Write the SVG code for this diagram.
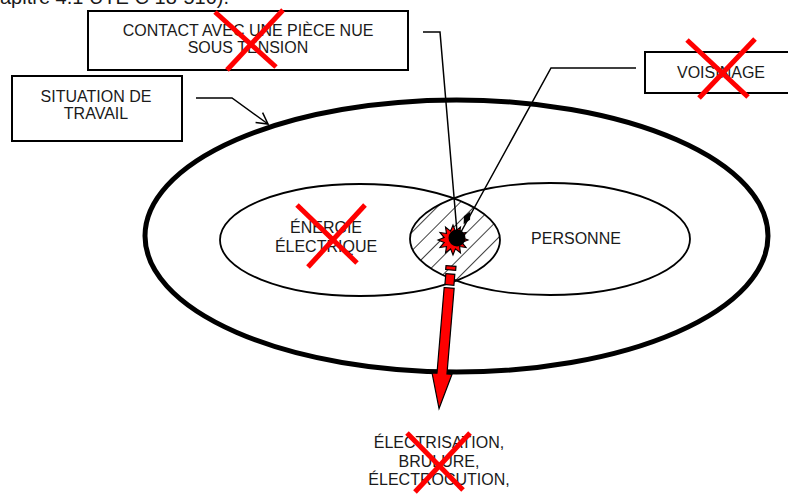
<svg xmlns="http://www.w3.org/2000/svg" width="788" height="502" viewBox="0 0 788 502">
<style>
text{font-family:"Liberation Sans",Arial,sans-serif;font-size:16px;fill:#1a1a1a;text-anchor:middle}
.box{fill:#fff;stroke:#000;stroke-width:2}
.cross{stroke:#ff0000;stroke-width:5;fill:none}
.thin{fill:none;stroke:#000;stroke-width:1.8}
.conn{fill:none;stroke:#000;stroke-width:1.5}
</style>
<defs>
<pattern id="hatch" width="13" height="13" patternUnits="userSpaceOnUse" patternTransform="rotate(45)">
<line x1="0" y1="0" x2="0" y2="13" stroke="#000" stroke-width="1.5"/>
</pattern>
<clipPath id="clipL"><ellipse cx="360" cy="240" rx="140" ry="56"/></clipPath>
<clipPath id="clipR"><ellipse cx="550" cy="239" rx="140" ry="56"/></clipPath>
<marker id="open" markerWidth="14" markerHeight="14" refX="12" refY="7" orient="auto" markerUnits="userSpaceOnUse">
<path d="M1,1 L12,7 L1,13" fill="none" stroke="#000" stroke-width="1.5"/>
</marker>
</defs>
<rect width="788" height="502" fill="#fff"/>
<text x="0" y="4" style="text-anchor:start;font-size:20px">apitre 4.1 UTE C 18-510).</text>

<g id="situation-ellipse">
<ellipse cx="456.5" cy="236" rx="311.5" ry="136" fill="none" stroke="#000" stroke-width="5"/>
</g>

<g id="intersection">
<g clip-path="url(#clipL)">
<rect x="400" y="180" width="110" height="120" fill="url(#hatch)" clip-path="url(#clipR)"/>
</g>
</g>

<g id="energie">
<ellipse cx="360" cy="240" rx="140" ry="56" class="thin"/>
<text x="326" y="233">ÉNERGIE</text>
<text x="326" y="252">ÉLECTRIQUE</text>
<line x1="297" y1="205" x2="357" y2="263" class="cross"/>
<line x1="365" y1="205" x2="308" y2="267" class="cross"/>
</g>

<g id="personne">
<ellipse cx="550" cy="239" rx="140" ry="56" class="thin"/>
<text x="576" y="244">PERSONNE</text>
</g>

<g id="connectors">
<polyline points="196,98 232,98 268,124" class="conn" marker-end="url(#open)"/>
<polyline points="423,32 440,32 457,232" class="conn"/>
<polyline points="636,68 551,68 461,232" class="conn"/>
<polygon points="-7,0 0,-3.5 7,0 0,3.5" fill="#000" transform="translate(467,218) rotate(118.8)"/>
</g>

<g id="contact-point">
<polygon transform="translate(453,240) scale(1.15) translate(-453,-240)" points="466,240 460.7,242.1 464.3,246.5 458.7,245.7 459.5,251.3 455.1,247.7 453,253 450.9,247.7 446.5,251.3 447.3,245.7 441.7,246.5 445.3,242.1 440,240 445.3,237.9 441.7,233.5 447.3,234.3 446.5,228.7 450.9,232.3 453,227 455.1,232.3 459.5,228.7 458.7,234.3 464.3,233.5 460.7,237.9" fill="#ff0000" stroke="#000" stroke-width="1"/>
<circle cx="457" cy="238" r="8.5" fill="#000"/>
</g>

<g id="arrow" transform="rotate(4.8,451,266)" fill="#ff0000" stroke="#000" stroke-width="1.2">
<rect x="446" y="266" width="10" height="4"/>
<rect x="446.5" y="274" width="9" height="11"/>
<polygon points="446,288 456,288 456,374 461,374 451,409 441,374 446,374"/>
</g>

<g id="contact">
<rect x="88" y="11" width="320" height="59" class="box"/>
<text x="248" y="36">CONTACT AVEC UNE PIÈCE NUE</text>
<text x="248" y="53">SOUS TENSION</text>
<line x1="215" y1="12" x2="276" y2="67" class="cross"/>
<line x1="283" y1="10" x2="227" y2="70" class="cross"/>
</g>

<g id="situation">
<rect x="12" y="76" width="170" height="65" class="box"/>
<text x="96" y="102">SITUATION DE</text>
<text x="96" y="119">TRAVAIL</text>
</g>

<g id="voisinage">
<rect x="645" y="52" width="150" height="41" class="box"/>
<text x="721" y="78">VOISINAGE</text>
<line x1="687" y1="40" x2="748" y2="97" class="cross"/>
<line x1="755" y1="39" x2="699" y2="98" class="cross"/>
</g>

<g id="consequences">
<text x="439" y="448">ÉLECTRISATION,</text>
<text x="439" y="467">BRULURE,</text>
<text x="439" y="485">ÉLECTROCUTION,</text>
<line x1="407" y1="433" x2="463" y2="490" class="cross"/>
<line x1="470" y1="433" x2="415" y2="492" class="cross"/>
</g>
</svg>
